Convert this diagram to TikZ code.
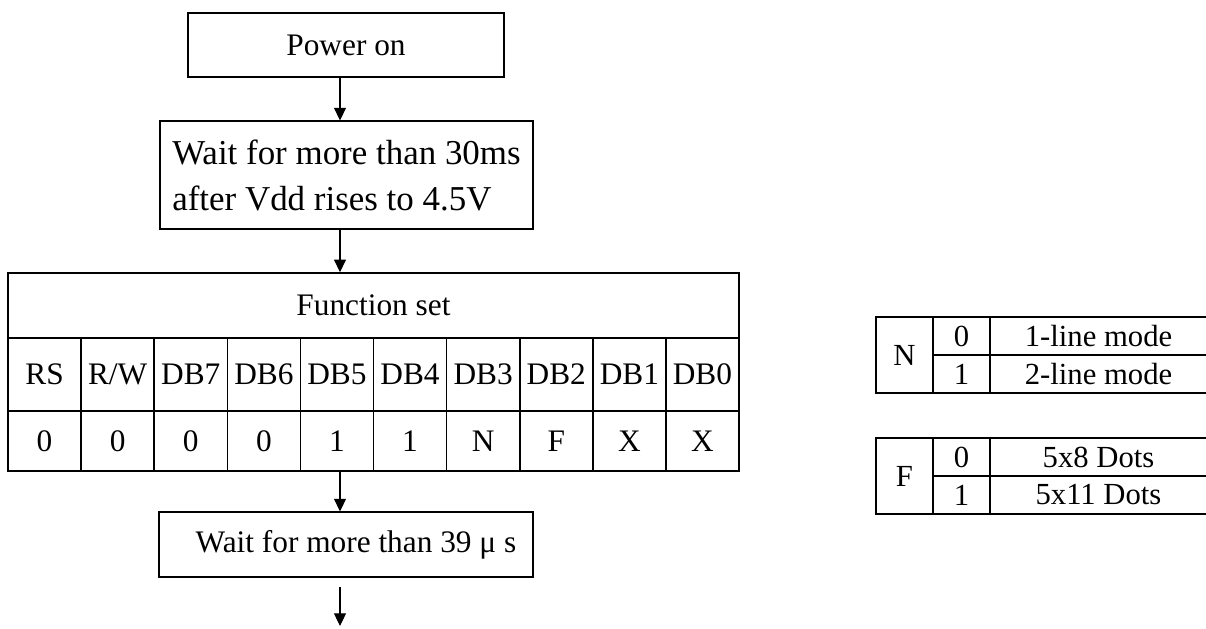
\documentclass[tikz,border=0pt]{standalone}
\usepackage{fontspec}
\setmainfont{Liberation Serif}
\usepackage{tikz}
\usetikzlibrary{arrows.meta}

\begin{document}
\begin{tikzpicture}[x=0.75pt,y=-0.75pt]
% Styles (MODIFIABLES)
\tikzstyle{fleche}=[-{Triangle[length=9.5pt,width=9pt]},line width=0.8pt]
\tikzstyle{boite}=[draw,line width=0.8pt,inner sep=0pt,font=\fontsize{23.5}{28}\selectfont]
\tikzstyle{case}=[draw,line width=1.2pt,inner sep=0pt,font=\fontsize{23.5}{28}\selectfont]
\tikzstyle{petit}=[draw,line width=1pt,inner sep=0pt,font=\fontsize{23}{26}\selectfont]
% Dimensions (MODIFIABLES)
\def\Px{0.75pt}
\def\LargeurCase{73.1}
\def\Gauche{8}
\useasboundingbox (0,0) rectangle (1206,628);
\coordinate (axe) at (340,0);
% Noeuds
\node[boite,minimum width=316*\Px,minimum height=64*\Px] (P) at (346,45) {Power on};
\node[boite,minimum width=373*\Px,minimum height=108*\Px,align=left,font=\fontsize{26.2}{34.5}\selectfont] (A) at (346.5,175) {Wait for more than 30ms\\after Vdd rises to 4.5V};
\node[case,minimum width=731*\Px,minimum height=65*\Px] (FS) at (373.5,305.5) {Function set};
\foreach \i/\nom/\val in {0/RS/0,1/{R/W}/0,2/DB7/0,3/DB6/0,4/DB5/1,5/DB4/1,6/DB3/N,7/DB2/F,8/DB1/X,9/DB0/X}{
  \node[case,minimum width=\LargeurCase*\Px,minimum height=73*\Px] (T\i) at ({\Gauche+(\i+0.5)*\LargeurCase},374.5) {\nom};
  \node[case,minimum width=\LargeurCase*\Px,minimum height=60*\Px] (V\i) at ({\Gauche+(\i+0.5)*\LargeurCase},441) {\val};
}
\node[boite,minimum width=374*\Px,minimum height=65*\Px] (W) at (346,544.5) {\hspace*{15pt}Wait for more than 39 μ s};
% Tableaux N et F
\foreach \lettre/\haut/\un/\deux in {N/317/1-line mode/2-line mode,F/438/5x8 Dots/5x11 Dots}{
  \node[petit,minimum width=57*\Px,minimum height=76*\Px] (\lettre L) at (904.5,\haut+38) {\lettre};
  \node[petit,minimum width=57*\Px,minimum height=38*\Px] (\lettre 0) at (961.5,\haut+19) {0};
  \node[petit,minimum width=57*\Px,minimum height=38*\Px] (\lettre 1) at (961.5,\haut+57) {1};
  \node[petit,minimum width=217*\Px,minimum height=38*\Px] (\lettre D0) at (1098.5,\haut+19) {\un};
  \node[petit,minimum width=217*\Px,minimum height=38*\Px] (\lettre D1) at (1098.5,\haut+57) {\deux};
}
% Arcs
\draw[fleche] (P.south -| axe) -- (A.north -| axe);
\draw[fleche] (A.south -| axe) -- (FS.north -| axe);
\draw[fleche] (V4.south -| axe) -- (W.north -| axe);
\path (W.south -| axe) ++(0,9) coordinate (sortie);
\coordinate (fin) at (340,626);
\draw[fleche] (sortie) -- (fin);
\end{tikzpicture}
\end{document}
